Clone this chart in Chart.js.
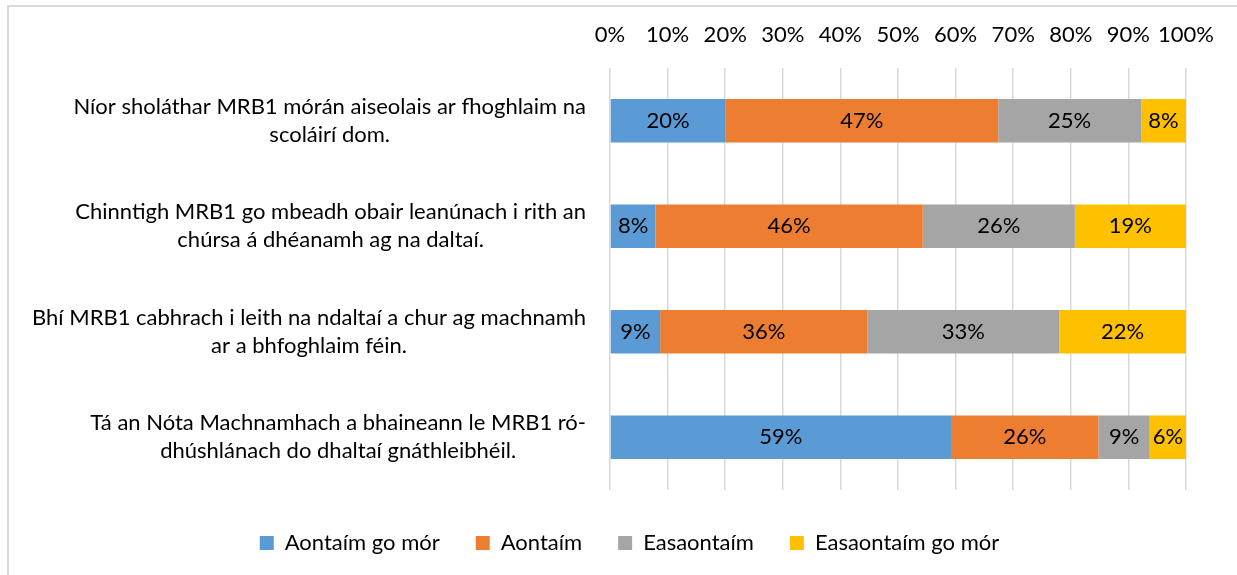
<!DOCTYPE html>
<html lang="ga">
<head>
<meta charset="UTF-8" />
<title>MRB1 - Aiseolas</title>
<script src="https://cdn.jsdelivr.net/npm/chart.js@4.4.1/dist/chart.umd.min.js"></script>
<style>
  body { margin: 0; background: #fff; }
  .chart-wrap { position: relative; width: 1237px; height: 575px; overflow: hidden; }
  .frame {
    position: absolute; left: 7px; top: 5px; width: 1240px; height: 580px;
    border: 2px solid #d9d9d9; pointer-events: none;
  }
</style>
</head>
<body>
<div class="chart-wrap">
  <canvas id="mrbChart"></canvas>
  <div class="frame"></div>
</div>
<script>
// statements (y axis), each split into its two lines
const statements = [
  ["Níor sholáthar MRB1 mórán aiseolais ar fhoghlaim na", "scoláirí dom."],
  ["Chinntigh MRB1 go mbeadh obair leanúnach i rith an", "chúrsa á dhéanamh ag na daltaí."],
  ["Bhí MRB1 cabhrach i leith na ndaltaí a chur ag machnamh", "ar a bhfoghlaim féin."],
  ["Tá an Nóta Machnamhach a bhaineann le MRB1 ró-", "dhúshlánach do dhaltaí gnáthleibhéil."]
];

// percentages per answer
const aontaimGoMor = [20.0, 7.9, 8.7, 59.2];
const aontaim = [47.4, 46.4, 36.0, 25.6];
const easaontaim = [24.8, 26.4, 33.3, 8.9];
const easaontaimGoMor = [7.8, 19.3, 22.0, 6.3];

const answerNames = ["Aontaím go mór", "Aontaím", "Easaontaím", "Easaontaím go mór"];
const answerColors = ["#5b9bd5", "#ed7d31", "#a5a5a5", "#ffc000"];

const FONT = "Lato";
const SIZE = 22;

// numbers inside the segments
const segmentLabels = {
  id: "segmentLabels",
  afterDatasetsDraw(chart) {
    const ctx = chart.ctx;
    ctx.save();
    ctx.font = SIZE + "px " + FONT;
    ctx.fillStyle = "#000";
    ctx.textAlign = "center";
    ctx.textBaseline = "middle";
    chart.data.datasets.forEach((ds, i) => {
      chart.getDatasetMeta(i).data.forEach((bar, j) => {
        ctx.fillText(Math.round(ds.data[j]) + "%", (bar.x + bar.base) / 2, bar.y);
      });
    });
    ctx.restore();
  }
};

// category labels: block right aligned to the axis, lines centred in the block
const statementLabels = {
  id: "statementLabels",
  afterLayout(chart) {
    // push the legend down a little, below the plot
    chart.legend.top += 6;
    chart.legend.bottom += 6;
  },
  afterDraw(chart) {
    const ctx = chart.ctx;
    const yScale = chart.scales.y;
    const right = chart.chartArea.left - 24;
    const lineH = 28;
    ctx.save();
    ctx.font = SIZE + "px " + FONT;
    ctx.fillStyle = "#000";
    ctx.textAlign = "center";
    ctx.textBaseline = "middle";
    statements.forEach((lines, i) => {
      const y = yScale.getPixelForTick(i);
      const widest = Math.max(...lines.map(l => ctx.measureText(l).width));
      const cx = right - widest / 2;
      lines.forEach((line, k) => {
        ctx.fillText(line, cx, y + (k - (lines.length - 1) / 2) * lineH);
      });
    });
    ctx.restore();
  }
};

const datasets = [aontaimGoMor, aontaim, easaontaim, easaontaimGoMor].map((data, i) => ({
  label: answerNames[i],
  data: data,
  backgroundColor: answerColors[i],
  borderWidth: 0,
  categoryPercentage: 1,
  barPercentage: 0.41
}));

new Chart(document.getElementById("mrbChart"), {
  type: "bar",
  data: { labels: statements.map(s => s.join(" ")), datasets },
  plugins: [segmentLabels, statementLabels],
  options: {
    indexAxis: "y",
    responsive: true,
    maintainAspectRatio: false,
    animation: false,
    layout: { padding: { left: 73, right: 51, top: 0, bottom: 17 } },
    scales: {
      x: {
        position: "top",
        stacked: true,
        min: 0,
        max: 100,
        afterFit: (scale) => { scale.height = 68; },
        ticks: {
          stepSize: 10,
          padding: 20,
          maxRotation: 0,
          minRotation: 0,
          autoSkip: false,
          color: "#000",
          font: { family: FONT, size: SIZE },
          callback: (v) => v + "%"
        },
        grid: { color: "#d9d9d9", lineWidth: 1.5, drawTicks: false },
        border: { display: false }
      },
      y: {
        stacked: true,
        afterFit: (scale) => { scale.width = 537; },
        ticks: { display: false },
        grid: { display: false },
        border: { display: false }
      }
    },
    plugins: {
      legend: {
        position: "bottom",
        labels: {
          boxWidth: 14,
          boxHeight: 14,
          padding: 36,
          color: "#000",
          font: { family: FONT, size: SIZE }
        }
      },
      tooltip: { enabled: false }
    }
  }
});
</script>
</body>
</html>
